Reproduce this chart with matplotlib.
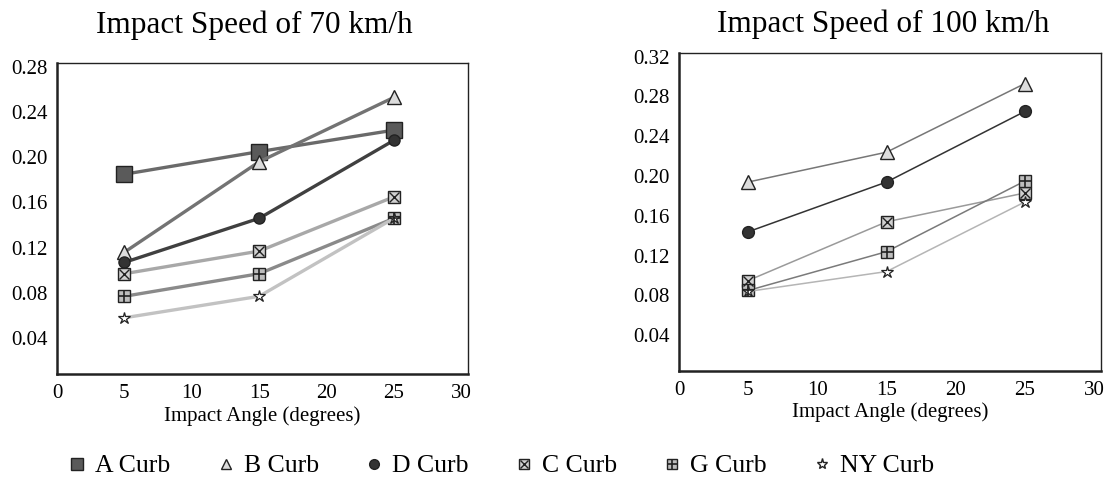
import matplotlib
matplotlib.use("Agg")
import matplotlib.pyplot as plt
from matplotlib.lines import Line2D
from matplotlib.legend_handler import HandlerTuple

plt.rcParams['font.family'] = ['Liberation Serif', 'DejaVu Serif']

# impact angles (degrees)
angles = [5, 15, 25]

# 70 km/h results
a_70 = [0.185, 0.205, 0.224]
b_70 = [0.116, 0.196, 0.253]
d_70 = [0.107, 0.146, 0.215]
c_70 = [0.097, 0.117, 0.165]
g_70 = [0.077, 0.097, 0.146]
ny_70 = [0.058, 0.077, 0.146]

# 100 km/h results (no A curb)
b_100 = [0.194, 0.224, 0.293]
d_100 = [0.144, 0.194, 0.265]
c_100 = [0.095, 0.154, 0.183]
g_100 = [0.085, 0.124, 0.195]
ny_100 = [0.084, 0.104, 0.174]

yticks_70 = [0.04, 0.08, 0.12, 0.16, 0.20, 0.24, 0.28]
yticks_100 = [0.04, 0.08, 0.12, 0.16, 0.20, 0.24, 0.28, 0.32]
xticks = [0, 5, 10, 15, 20, 25, 30]

legend_names = ['A Curb', 'B Curb', 'D Curb', 'C Curb', 'G Curb', 'NY Curb']


def draw_series(ax, y, line_col, lw, kind, ms):
    """draw one curb series; C and G get a square with an overlaid x / + glyph"""
    if kind == 'A':
        ax.plot(angles, y, color=line_col, lw=lw, marker='s', ms=ms,
                mfc='#5a5a5a', mec='#222222', mew=1.0, zorder=3)
    elif kind == 'B':
        ax.plot(angles, y, color=line_col, lw=lw, marker='^', ms=ms,
                mfc='#dcdcdc', mec='#222222', mew=1.0, zorder=3)
    elif kind == 'D':
        ax.plot(angles, y, color=line_col, lw=lw, marker='o', ms=ms,
                mfc='#333333', mec='#222222', mew=1.0, zorder=3)
    elif kind == 'C':
        ax.plot(angles, y, color=line_col, lw=lw, marker='s', ms=ms,
                mfc='#d0d0d0', mec='#222222', mew=1.0, zorder=3)
        ax.plot(angles, y, ls='none', marker='x', ms=ms * 0.85,
                mec='#222222', mew=1.0, zorder=4)
    elif kind == 'G':
        ax.plot(angles, y, color=line_col, lw=lw, marker='s', ms=ms,
                mfc='#bdbdbd', mec='#222222', mew=1.0, zorder=3)
        ax.plot(angles, y, ls='none', marker='+', ms=ms * 1.0,
                mec='#222222', mew=1.2, zorder=4)
    elif kind == 'NY':
        ax.plot(angles, y, color=line_col, lw=lw, marker='*', ms=ms,
                mfc='white', mec='#222222', mew=0.9, zorder=3)


def style_axes(ax, yticks, ylim):
    ax.set_xlim(0, 30.5)
    ax.set_ylim(*ylim)
    ax.set_xticks(xticks)
    ax.set_xticklabels([str(v) for v in xticks], fontfamily='Liberation Serif')
    ax.set_yticks(yticks)
    ax.set_yticklabels(['%.2f' % v for v in yticks], fontfamily='Liberation Serif')
    ax.tick_params(length=0, labelsize=15, pad=7)
    for sp in ax.spines.values():
        sp.set_color('#222222')
        sp.set_linewidth(1.0)
    ax.spines['left'].set_linewidth(1.8)
    ax.spines['bottom'].set_linewidth(1.8)
    ax.set_xlabel('Impact Angle (degrees)', fontsize=15, labelpad=2)


fig = plt.figure(figsize=(11.07, 4.8), dpi=100)
ax1 = fig.add_axes([0.0515, 0.2202, 0.3713, 0.6488])
ax2 = fig.add_axes([0.6134, 0.2270, 0.3812, 0.6626])

# left panel, 70 km/h (thick lines)
draw_series(ax1, a_70, '#6a6a6a', 2.4, 'A', 11)
draw_series(ax1, b_70, '#737373', 2.4, 'B', 10)
draw_series(ax1, d_70, '#404040', 2.4, 'D', 8)
draw_series(ax1, c_70, '#a8a8a8', 2.4, 'C', 8.5)
draw_series(ax1, g_70, '#8a8a8a', 2.4, 'G', 8.5)
draw_series(ax1, ny_70, '#c2c2c2', 2.4, 'NY', 9)
style_axes(ax1, yticks_70, (0.008, 0.2835))

# right panel, 100 km/h (thin lines)
draw_series(ax2, b_100, '#777777', 1.1, 'B', 10)
draw_series(ax2, d_100, '#333333', 1.1, 'D', 8.5)
draw_series(ax2, c_100, '#9a9a9a', 1.1, 'C', 8.5)
draw_series(ax2, g_100, '#7a7a7a', 1.1, 'G', 8.5)
draw_series(ax2, ny_100, '#b5b5b5', 1.1, 'NY', 9)
style_axes(ax2, yticks_100, (0.004, 0.3237))

fig.text(254 / 1107, 1 - 33 / 480, 'Impact Speed of 70 km/h',
         ha='center', va='baseline', fontsize=22.5)
fig.text(883 / 1107, 1 - 32 / 480, 'Impact Speed of 100 km/h',
         ha='center', va='baseline', fontsize=22.5)

# legend handles (marker only)
h_a = Line2D([], [], ls='none', marker='s', ms=9, mfc='#5a5a5a', mec='#222222')
h_b = Line2D([], [], ls='none', marker='^', ms=7, mfc='#dcdcdc', mec='#222222')
h_d = Line2D([], [], ls='none', marker='o', ms=7, mfc='#333333', mec='#222222')
h_c = (Line2D([], [], ls='none', marker='s', ms=7, mfc='#d0d0d0', mec='#222222'),
       Line2D([], [], ls='none', marker='x', ms=6, mec='#222222'))
h_g = (Line2D([], [], ls='none', marker='s', ms=7, mfc='#bdbdbd', mec='#222222'),
       Line2D([], [], ls='none', marker='+', ms=7, mec='#222222', mew=1.2))
h_ny = Line2D([], [], ls='none', marker='*', ms=8, mfc='white', mec='#222222')

fig.legend([h_a, h_b, h_d, h_c, h_g, h_ny], legend_names,
           handler_map={tuple: HandlerTuple(ndivide=1)},
           loc='center', bbox_to_anchor=(502 / 1107, 1 - 466 / 480),
           ncol=6, frameon=False, fontsize=18.5, handlelength=0.6,
           handletextpad=0.4, columnspacing=1.85, borderpad=0)

fig.savefig('out.png', dpi=100)
